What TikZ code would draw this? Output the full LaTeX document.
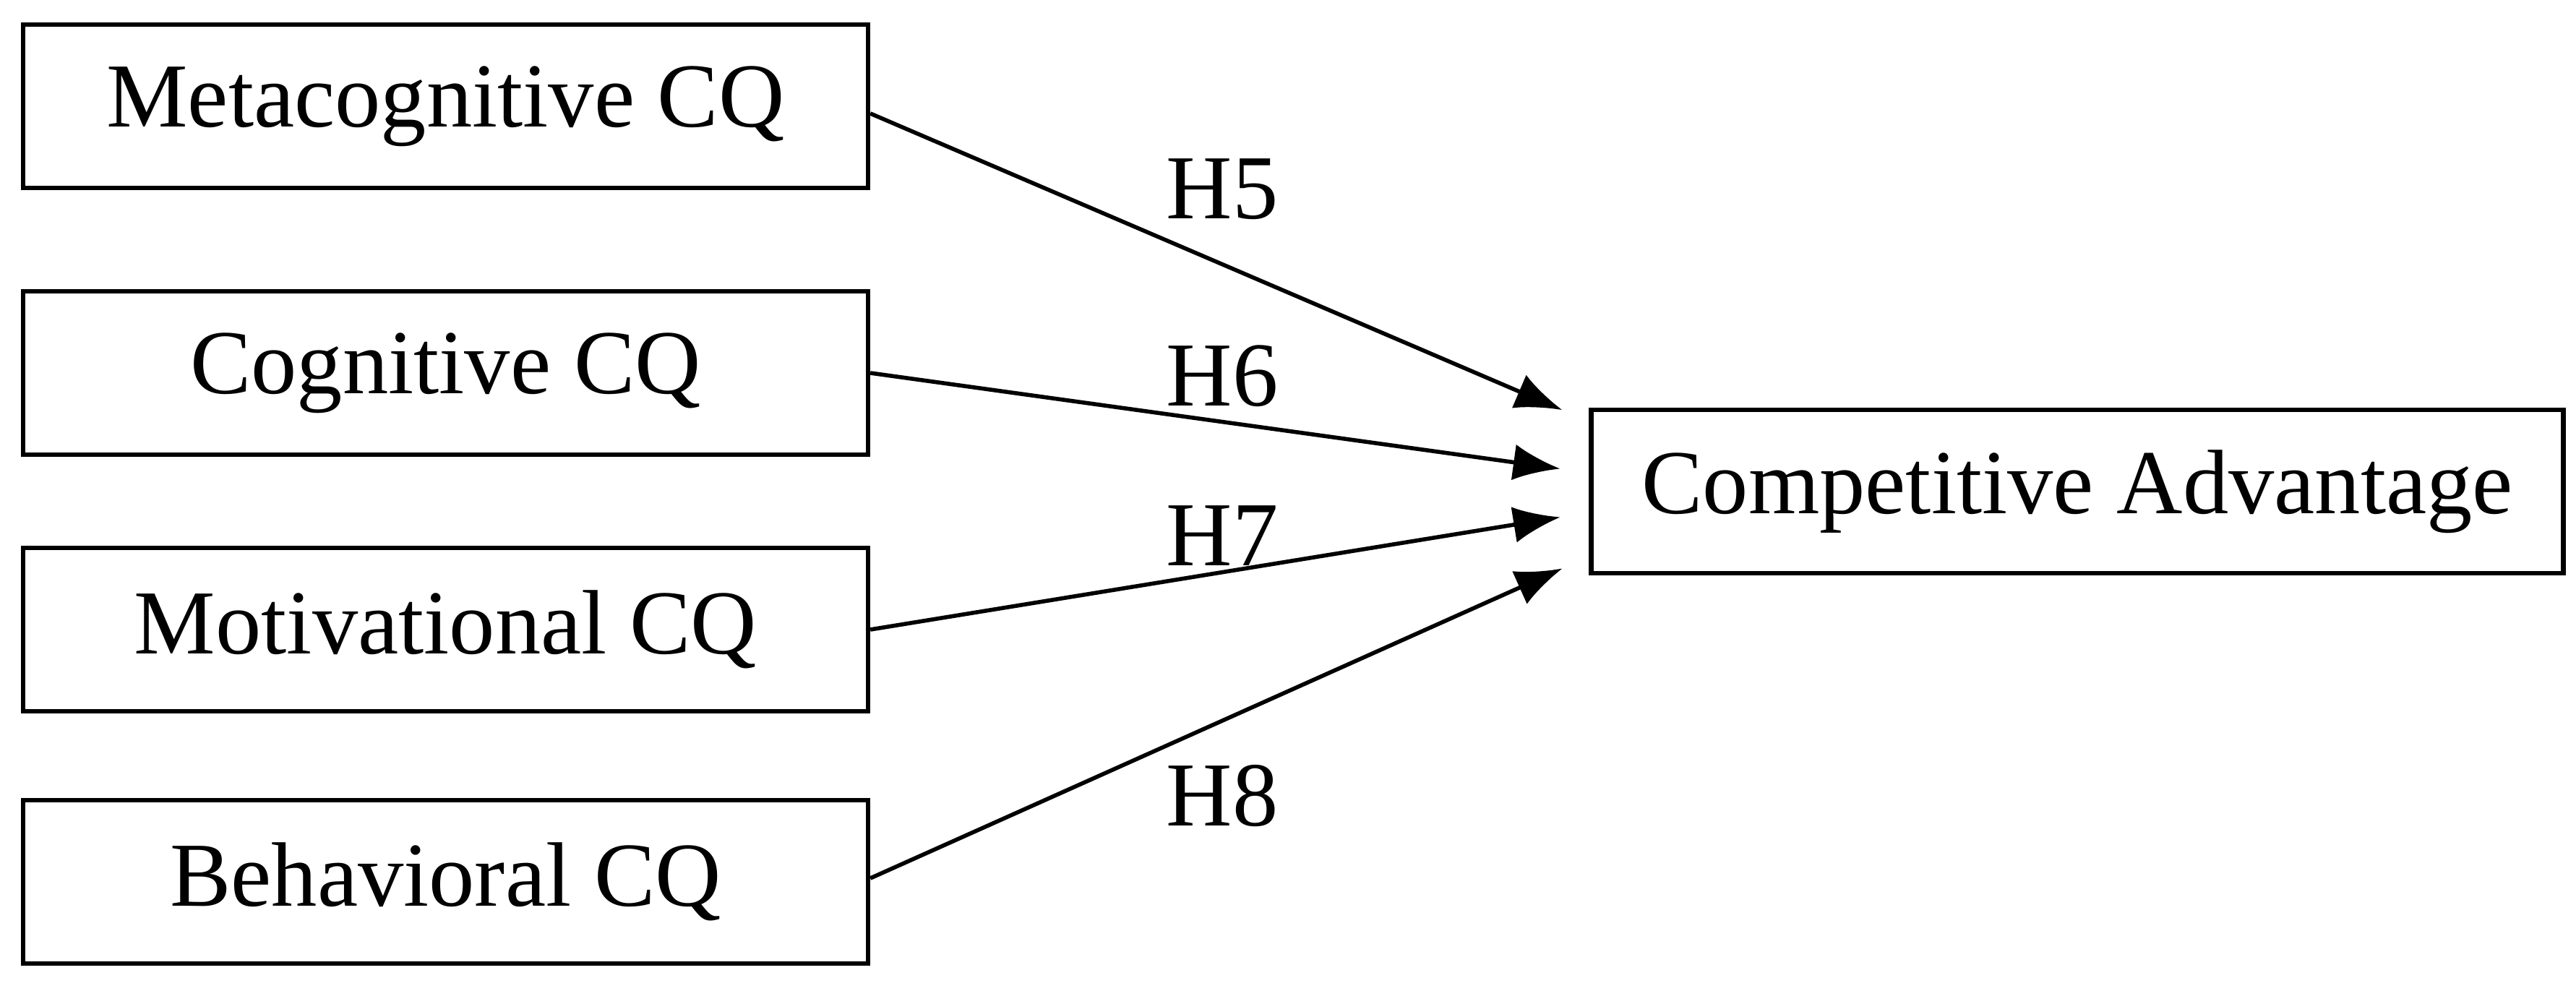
\documentclass[tikz,border=0pt]{standalone}
\usepackage{fontspec}
\setmainfont{Liberation Serif}
\usetikzlibrary{arrows.meta}
\tikzset{cq/.style={draw, line width=1.8pt, minimum width=11.69cm, minimum height=2.26cm, font=\fontsize{36}{43}\selectfont},
  hyp/.style={font=\fontsize{36}{43}\selectfont},
  link/.style={line width=1.6pt, -{Latex[length=0.65cm,width=0.5cm]}, shorten >=0.4cm}}
\begin{document}
\begin{tikzpicture}
\useasboundingbox (0,0) rectangle (35.64,13.70);

\node[cq] (meta) at (6.165,12.23) {Metacognitive CQ};
\node[cq] (cog) at (6.165,8.54) {Cognitive CQ};
\node[cq] (mot) at (6.165,4.99) {Motivational CQ};
\node[cq] (beh) at (6.165,1.50) {Behavioral CQ};
\node[cq, minimum width=13.45cm] (comp) at (28.74,6.90) {Competitive Advantage};

\draw[link] ([yshift=-0.1cm]meta.east) -- ([yshift=0.97cm]comp.west);
\draw[link] (cog.east) -- ([yshift=0.26cm]comp.west);
\draw[link] (mot.east) -- ([yshift=-0.29cm]comp.west);
\draw[link] ([yshift=0.05cm]beh.east) -- ([yshift=-0.90cm]comp.west);

\node[hyp] (h5) at (16.91,11.08) {H5};
\node[hyp] (h6) at (16.91,8.50) {H6};
\node[hyp] (h7) at (16.91,6.29) {H7};
\node[hyp] (h8) at (16.91,2.69) {H8};
\end{tikzpicture}
\end{document}
